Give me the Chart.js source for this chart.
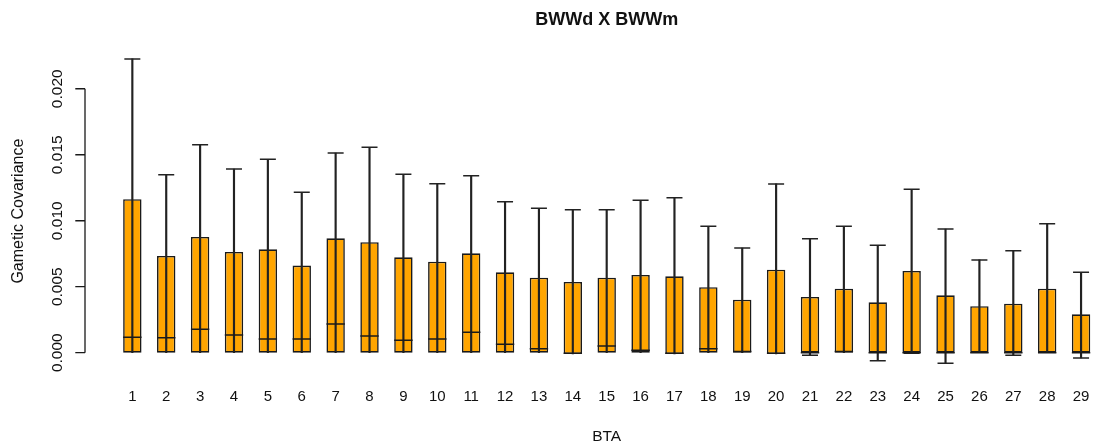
<!DOCTYPE html>
<html>
<head>
<meta charset="utf-8">
<script src="https://cdn.jsdelivr.net/npm/chart.js@4/dist/chart.umd.min.js"></script>
<style>
  html, body { margin: 0; padding: 0; background: #fff; }
  #wrap { width: 1095px; height: 444px; overflow: hidden; position: relative; }
  canvas { display: block; }
</style>
</head>
<body>
<div id="wrap"><canvas id="c" width="1130" height="444"></canvas></div>
<script>
// Gametic covariance BWWd x BWWm per chromosome (BTA 1-29)
const categories = ['1','2','3','4','5','6','7','8','9','10','11','12','13','14','15',
                    '16','17','18','19','20','21','22','23','24','25','26','27','28','29'];
const lowerQuartile = [0, 0, 0, 0, 0, 0, 0, 0, 0, 0, 0, 0, 0, -0.0001, 0,
                       0, -0.0001, 0, 0, -0.0001, 0, 0, 0, 0, 0, 0, 0, 0, 0];
const medianValue = [0.00117, 0.00114, 0.00177, 0.00134, 0.00104, 0.00104, 0.00218, 0.00127, 0.00094, 0.00104,
                     0.00155, 0.00064, 0.00030, -0.00005, 0.00051, 0.00018, -0.00005, 0.00030, 0.00010, -0.00005,
                     0, 0.00010, 0, 0, 0, 0, 0, 0, 0];
const upperQuartile = [0.01163, 0.00733, 0.00877, 0.00763, 0.00783, 0.00660, 0.00867, 0.00837, 0.00723, 0.00690,
                       0.00753, 0.00609, 0.00568, 0.00536, 0.00568, 0.00589, 0.00579, 0.00496, 0.00402, 0.00629,
                       0.00422, 0.00485, 0.00382, 0.00619, 0.00435, 0.00352, 0.00371, 0.00485, 0.00291];
const whiskerHigh = [0.02226, 0.01349, 0.01576, 0.01392, 0.01466, 0.01216, 0.01513, 0.01556, 0.01352, 0.01281,
                     0.01341, 0.01144, 0.01094, 0.01084, 0.01084, 0.01155, 0.01175, 0.00958, 0.00793, 0.01279,
                     0.00864, 0.00958, 0.00814, 0.01238, 0.00937, 0.00703, 0.00773, 0.00978, 0.00609];
const whiskerLow = [0, 0, 0, 0, 0, 0, 0, 0, 0, 0, 0, 0, 0, -0.0001, 0,
                    0, -0.0001, 0, 0, -0.0001, -0.0002, 0, -0.00061, -0.00005, -0.0008, 0, -0.0002, 0, -0.0004];
const yTicks = [0, 0.005, 0.010, 0.015, 0.020];
const yTickLabels = ['0.000', '0.005', '0.010', '0.015', '0.020'];

const FONT = '"Liberation Sans", Arial, Helvetica, sans-serif';
const INK = '#1a1a1a';

const boxData = categories.map((c, i) => [lowerQuartile[i], upperQuartile[i]]);
const whiskerData = categories.map((c, i) => [whiskerLow[i], whiskerHigh[i]]);
const lowCap = categories.map((c, i) => whiskerLow[i] < lowerQuartile[i] ? whiskerLow[i] : null);

// Axis decorations in base-graphics style: y axis spanning the tick range, rotated labels, titles
const frame = {
  id: 'frame',
  afterDraw(chart) {
    const ctx = chart.ctx;
    const y = chart.scales.y;
    const area = chart.chartArea;
    const axisX = 85;
    ctx.save();
    ctx.strokeStyle = INK;
    ctx.lineWidth = 1.3;
    ctx.beginPath();
    ctx.moveTo(axisX, y.getPixelForValue(yTicks[0]));
    ctx.lineTo(axisX, y.getPixelForValue(yTicks[yTicks.length - 1]));
    yTicks.forEach(v => {
      const py = y.getPixelForValue(v);
      ctx.moveTo(axisX, py);
      ctx.lineTo(axisX - 9.7, py);
    });
    ctx.stroke();

    ctx.fillStyle = '#111';
    ctx.font = '15.5px ' + FONT;
    ctx.textAlign = 'center';
    ctx.textBaseline = 'middle';
    yTicks.forEach((v, i) => {
      const py = y.getPixelForValue(v);
      ctx.save();
      ctx.translate(57.5, py);
      ctx.rotate(-Math.PI / 2);
      ctx.fillText(yTickLabels[i], 0, 0);
      ctx.restore();
    });

    const cx = (area.left + area.right) / 2;
    const cy = (area.top + area.bottom) / 2;
    ctx.font = '16px ' + FONT;
    ctx.save();
    ctx.translate(19, cy);
    ctx.rotate(-Math.PI / 2);
    ctx.fillText('Gametic Covariance', 0, 0);
    ctx.restore();

    ctx.font = '15.5px ' + FONT;
    ctx.fillText('BTA', cx, 437);

    ctx.font = 'bold 18px ' + FONT;
    ctx.textBaseline = 'alphabetic';
    ctx.fillText('BWWd X BWWm', cx, 24.5);
    ctx.restore();
  }
};

new Chart(document.getElementById('c'), {
  data: {
    labels: categories,
    datasets: [
      {
        type: 'bar',
        data: boxData,
        backgroundColor: '#FFA500',
        borderColor: INK,
        borderWidth: 1.6,
        borderSkipped: false,
        grouped: false,
        barPercentage: 0.543,
        categoryPercentage: 1,
        order: 3
      },
      {
        type: 'bar',
        data: whiskerData,
        backgroundColor: '#222',
        borderWidth: 0,
        barThickness: 1.5,
        grouped: false,
        order: 2
      },
      {
        type: 'line',
        data: medianValue,
        showLine: false,
        pointStyle: 'line',
        pointRadius: 9.2,
        pointBorderWidth: 1.5,
        borderColor: INK,
        order: 1
      },
      {
        type: 'line',
        data: whiskerHigh,
        showLine: false,
        pointStyle: 'line',
        pointRadius: 8,
        pointBorderWidth: 1.5,
        borderColor: '#222',
        order: 1
      },
      {
        type: 'line',
        data: lowCap,
        showLine: false,
        pointStyle: 'line',
        pointRadius: 8,
        pointBorderWidth: 1.5,
        borderColor: '#222',
        order: 1
      }
    ]
  },
  options: {
    responsive: false,
    animation: false,
    events: [],
    layout: { padding: { left: 115.4, right: 32, top: 46.8, bottom: 0 } },
    plugins: { legend: { display: false }, tooltip: { enabled: false }, title: { display: false } },
    scales: {
      x: {
        type: 'category',
        offset: true,
        grid: { display: false, drawTicks: false },
        border: { display: false },
        ticks: { font: { family: FONT, size: 15 }, color: '#111', padding: 12, maxRotation: 0, autoSkip: false },
        afterFit(s) { s.height = 68.6; }
      },
      y: {
        type: 'linear',
        display: false,
        min: -0.00172,
        max: 0.02318
      }
    }
  },
  plugins: [frame]
});
</script>
</body>
</html>
